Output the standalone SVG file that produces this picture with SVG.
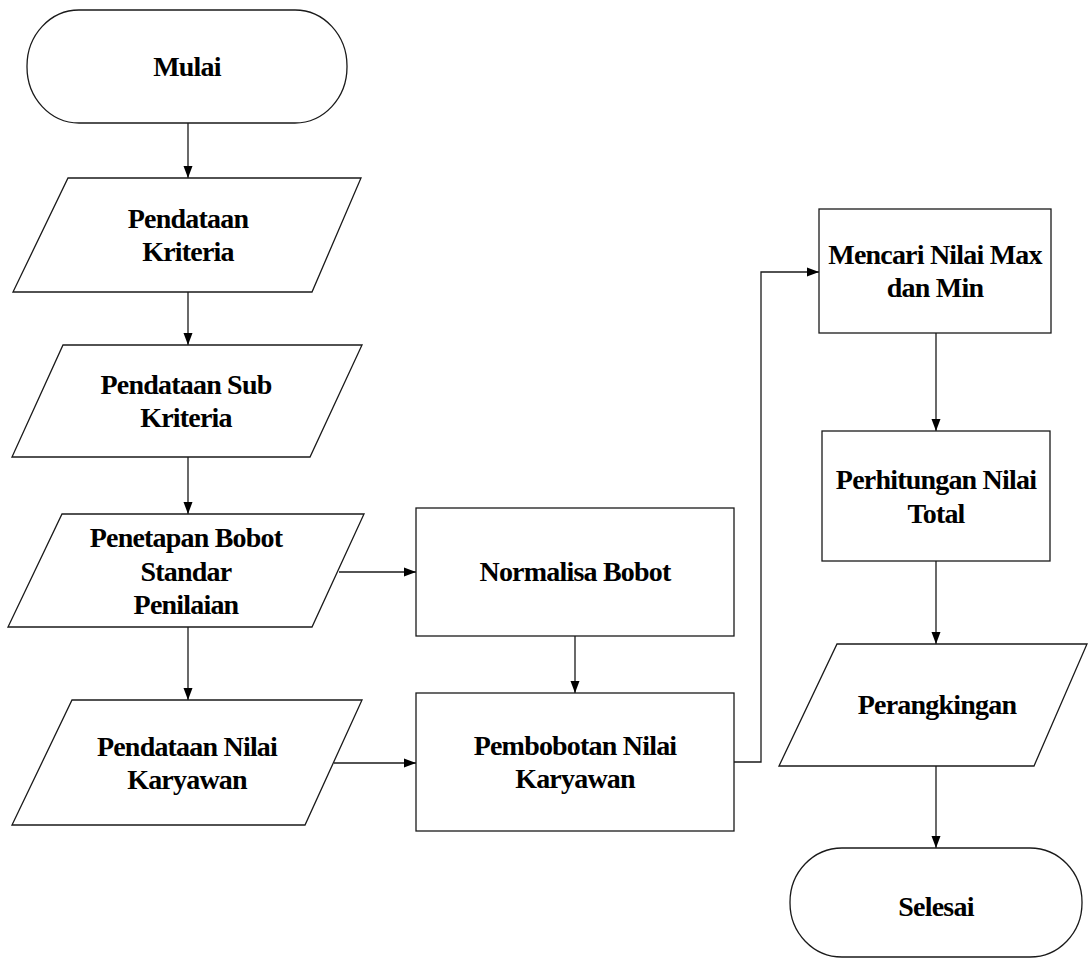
<svg xmlns="http://www.w3.org/2000/svg" width="1088" height="961" viewBox="0 0 1088 961">
<style>
.s{fill:#fff;stroke:#1a1a1a;stroke-width:1.3}
.c{fill:none;stroke:#1a1a1a;stroke-width:1.3}
text{font-family:"Liberation Serif","Times New Roman",serif;font-weight:bold;font-size:28px;letter-spacing:-0.8px;fill:#000;text-anchor:middle}
</style>
<defs>
<marker id="ah" viewBox="0 0 12 10" refX="12" refY="5" markerWidth="12" markerHeight="10" markerUnits="userSpaceOnUse" orient="auto">
<path d="M0,0.5 L12,5 L0,9.5 Z" fill="#000"/>
</marker>
</defs>
<rect width="1088" height="961" fill="#fff"/>
<g id="connectors">
<path class="c" d="M188,123 V178" marker-end="url(#ah)"/>
<path class="c" d="M188,292 V345" marker-end="url(#ah)"/>
<path class="c" d="M188,457 V514" marker-end="url(#ah)"/>
<path class="c" d="M188,627 V700" marker-end="url(#ah)"/>
<path class="c" d="M339,572 H416" marker-end="url(#ah)"/>
<path class="c" d="M334,763 H416" marker-end="url(#ah)"/>
<path class="c" d="M575,636 V693" marker-end="url(#ah)"/>
<path class="c" d="M734,762 H761 V272 H819" marker-end="url(#ah)"/>
<path class="c" d="M936,333 V431" marker-end="url(#ah)"/>
<path class="c" d="M936,561 V644" marker-end="url(#ah)"/>
<path class="c" d="M936,766 V848" marker-end="url(#ah)"/>
</g>
<g id="mulai">
<rect class="s" x="27" y="10" width="320" height="113" rx="52" ry="56"/>
<text x="187" y="76">Mulai</text>
</g>
<g id="pendataan-kriteria">
<polygon class="s" points="68,178 361,178 312,292 13,292"/>
<text x="188" y="228">Pendataan</text>
<text x="188" y="261">Kriteria</text>
</g>
<g id="pendataan-sub-kriteria">
<polygon class="s" points="63,345 362,345 310,457 12,457"/>
<text x="186" y="394">Pendataan Sub</text>
<text x="186" y="427">Kriteria</text>
</g>
<g id="penetapan-bobot">
<polygon class="s" points="62,514 364,514 312,627 8,627"/>
<text x="186" y="547">Penetapan Bobot</text>
<text x="186" y="581">Standar</text>
<text x="186" y="614">Penilaian</text>
</g>
<g id="pendataan-nilai">
<polygon class="s" points="72,700 362,700 305,825 12,825"/>
<text x="187" y="756">Pendataan Nilai</text>
<text x="187" y="789">Karyawan</text>
</g>
<g id="normalisa-bobot">
<rect class="s" x="416" y="508" width="318" height="128"/>
<text x="575" y="581">Normalisa Bobot</text>
</g>
<g id="pembobotan-nilai">
<rect class="s" x="416" y="693" width="318" height="138"/>
<text x="575" y="755">Pembobotan Nilai</text>
<text x="575" y="788">Karyawan</text>
</g>
<g id="mencari-nilai">
<rect class="s" x="819" y="209" width="232" height="124"/>
<text x="935" y="264">Mencari Nilai Max</text>
<text x="935" y="297">dan Min</text>
</g>
<g id="perhitungan-nilai">
<rect class="s" x="822" y="431" width="228" height="130"/>
<text x="936" y="489">Perhitungan Nilai</text>
<text x="936" y="523">Total</text>
</g>
<g id="perangkingan">
<polygon class="s" points="837,644 1087,644 1034,766 779,766"/>
<text x="937" y="714">Perangkingan</text>
</g>
<g id="selesai">
<rect class="s" x="790" y="848" width="292" height="109" rx="52" ry="54"/>
<text x="936" y="916">Selesai</text>
</g>
</svg>
